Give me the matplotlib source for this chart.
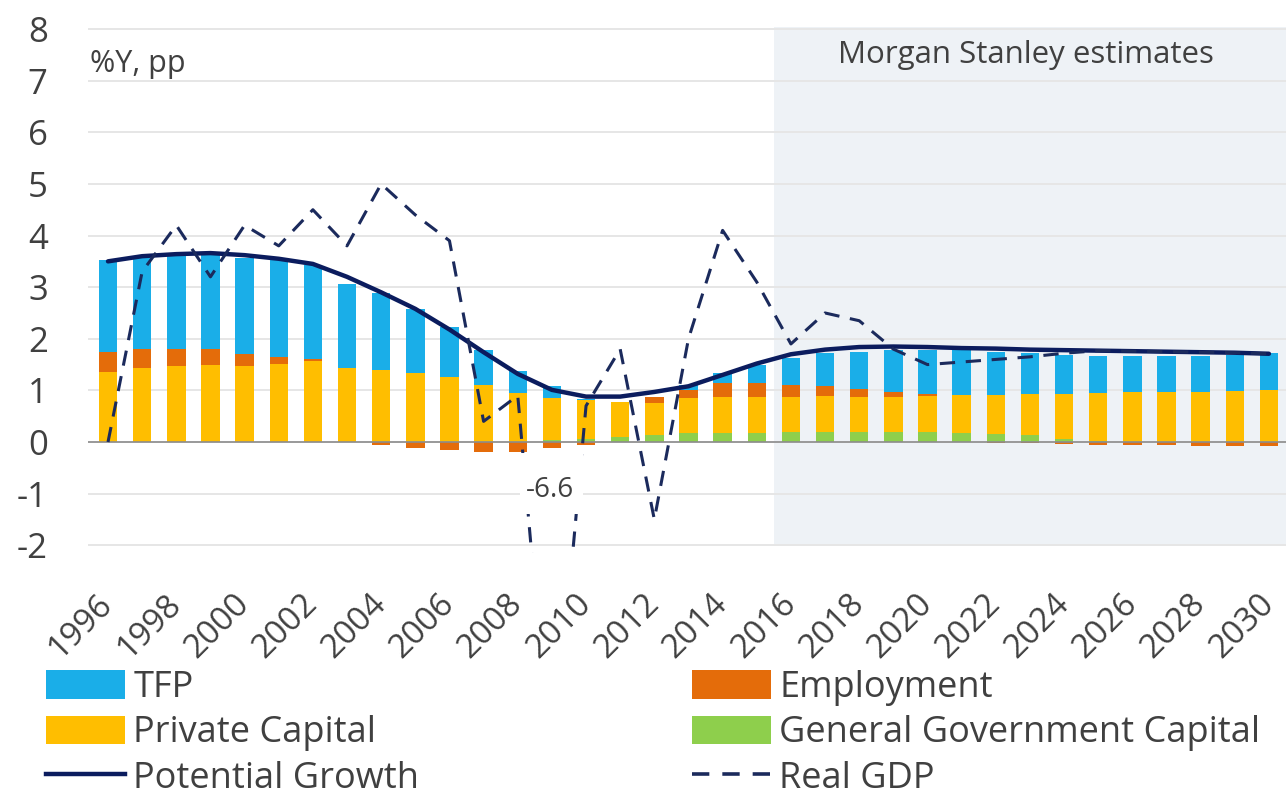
import matplotlib
matplotlib.use("Agg")
import matplotlib.pyplot as plt
from matplotlib.patches import Patch, Rectangle
from matplotlib.lines import Line2D
import numpy as np

#===== DATA =====
years = list(range(1996, 2031))
gov_capital = [0.00, 0.00, 0.00, 0.00, 0.00, 0.00, 0.00, 0.00, 0.00, 0.00,
               0.00, 0.00, 0.00, 0.03, 0.05, 0.10, 0.13, 0.18, 0.18, 0.18,
               0.19, 0.20, 0.20, 0.19, 0.19, 0.18, 0.16, 0.13, 0.06, 0.02,
               0.00, 0.00, 0.00, 0.00, 0.00]
private_capital = [1.36, 1.43, 1.47, 1.50, 1.47, 1.52, 1.57, 1.43, 1.40, 1.33,
                   1.25, 1.10, 0.94, 0.82, 0.76, 0.68, 0.62, 0.67, 0.70, 0.70,
                   0.69, 0.69, 0.68, 0.69, 0.70, 0.73, 0.75, 0.80, 0.87, 0.92,
                   0.96, 0.97, 0.97, 0.99, 1.01]
employment = [0.39, 0.37, 0.33, 0.30, 0.23, 0.13, 0.03, 0.00, -0.05, -0.12,
              -0.16, -0.19, -0.19, -0.12, -0.05, 0.00, 0.13, 0.16, 0.26, 0.27,
              0.22, 0.19, 0.14, 0.09, 0.04, 0.00, -0.01, -0.02, -0.04, -0.06,
              -0.06, -0.06, -0.07, -0.07, -0.07]
tfp = [1.78, 1.77, 1.82, 1.82, 1.87, 1.87, 1.83, 1.64, 1.48, 1.24,
       0.97, 0.68, 0.44, 0.23, 0.02, 0.00, 0.00, 0.09, 0.19, 0.34,
       0.52, 0.64, 0.73, 0.81, 0.85, 0.87, 0.84, 0.79, 0.76, 0.73,
       0.71, 0.70, 0.70, 0.69, 0.72]
potential = [3.50, 3.60, 3.64, 3.66, 3.62, 3.55, 3.45, 3.20, 2.90, 2.58,
             2.18, 1.74, 1.32, 1.01, 0.88, 0.88, 0.97, 1.08, 1.30, 1.52,
             1.70, 1.79, 1.84, 1.85, 1.84, 1.82, 1.81, 1.79, 1.78, 1.77,
             1.76, 1.75, 1.74, 1.73, 1.71]
real_gdp = [0.0, 3.3, 4.2, 3.2, 4.2, 3.8, 4.5, 3.8, 5.0, 4.4,
            3.9, 0.4, 0.9, -6.6, 0.7, 1.8, -1.5, 2.0, 4.1, 3.1,
            1.9, 2.5, 2.35, 1.8, 1.5, 1.55, 1.6, 1.65, 1.72, 1.77,
            1.76, 1.75, 1.74, 1.73, 1.71]
xtick_labels = [str(y) for y in years[::2]]
yticks = list(range(-2, 9))
estimate_start = 2016
trough_year = 2009

#===== STYLE =====
plt.rcParams['font.family'] = ['Open Sans', 'DejaVu Sans']
plt.rcParams['axes.unicode_minus'] = False
c_tfp = "#1AAEE8"
c_emp = "#E46C0A"
c_pc = "#FFBE00"
c_gov = "#8ECF4C"
c_pot = "#0B1C5E"
c_gdp = "#1B2A5C"
c_text = "#404040"

fig = plt.figure(figsize=(12.86, 8.02), dpi=100)
ax = fig.add_axes([88/1286, 249/802, 1198/1286, 526/802])

x = np.arange(len(years))
gov = np.array(gov_capital)
pc = np.array(private_capital)
emp = np.array(employment)
tf = np.array(tfp)

# shaded forecast region
est_idx = years.index(estimate_start) - 0.5
ax.add_patch(Rectangle((est_idx, -2), 40, 10.04, facecolor="#EEF2F6",
                       edgecolor="none", zorder=0))

for yv in yticks:
    ax.axhline(yv, color="#E6E6E6", lw=1.4, zorder=1)
ax.axhline(0, color="#8C8C8C", lw=1.2, zorder=3)

w = 0.54
emp_pos = np.clip(emp, 0, None)
emp_neg = np.clip(emp, None, 0)
ax.bar(x, gov, w, color=c_gov, zorder=2)
ax.bar(x, pc, w, bottom=gov, color=c_pc, zorder=2)
ax.bar(x, emp_pos, w, bottom=gov + pc, color=c_emp, zorder=2)
ax.bar(x, emp_neg, w, color=c_emp, zorder=2)
ax.bar(x, tf, w, bottom=gov + pc + emp_pos, color=c_tfp, zorder=2)

ax.plot(x, potential, color=c_pot, lw=3.2, zorder=5, solid_capstyle="round")
ax.plot(x, real_gdp, color=c_gdp, lw=2.2, dashes=(5, 3.5), zorder=6)

# data label for the off-scale trough, white box like the original
ti = years.index(trough_year)
ax.add_patch(Rectangle((ti - 0.94, -1.40), 1.84, 1.19, facecolor="white",
                       edgecolor="none", zorder=6.5))
ax.text(ti - 0.06, -0.93, "-6.6", fontsize=20, color=c_text, ha="center",
        va="center", zorder=7)

ax.set_xlim(-0.586, 34.5)
ax.set_ylim(-2.15, 8.04)
for s in ax.spines.values():
    s.set_visible(False)

ax.set_yticks(yticks)
ax.tick_params(axis="y", length=0, pad=29, labelsize=25, labelcolor=c_text)
ax.set_xticks(x[::2])
ax.set_xticklabels(xtick_labels, rotation=45, ha="right", va="center",
                   rotation_mode="anchor")
ax.tick_params(axis="x", length=0, pad=33, labelsize=24, labelcolor=c_text)

ax.text(0.0017, 0.915, "%Y, pp", transform=ax.transAxes, fontsize=22,
        color=c_text, ha="left", va="baseline")
ax.text(0.783, 0.947, "Morgan Stanley estimates", transform=ax.transAxes,
        fontsize=22.5, color=c_text, ha="center", va="center")

#===== LEGEND =====
h_tfp = Patch(facecolor=c_tfp)
h_pc = Patch(facecolor=c_pc)
h_pot = Line2D([], [], color=c_pot, lw=3.2)
h_emp = Patch(facecolor=c_emp)
h_gov = Patch(facecolor=c_gov)
h_gdp = Line2D([], [], color=c_gdp, lw=2.6, dashes=(4.8, 3.6))

leg_kw = dict(loc="upper left", frameon=False, fontsize=26, borderpad=0,
              borderaxespad=0, handlelength=2.2, handleheight=0.82,
              handletextpad=0.22, labelspacing=0.26, labelcolor=c_text)
leg1 = fig.legend([h_tfp, h_pc, h_pot], ["TFP", "Private Capital", "Potential Growth"],
                  bbox_to_anchor=(46/1286, 1 - 670/802), **leg_kw)
leg2 = fig.legend([h_emp, h_gov, h_gdp],
                  ["Employment", "General Government Capital", "Real GDP"],
                  bbox_to_anchor=(692/1286, 1 - 670/802), **leg_kw)

fig.savefig("out.png", dpi=100)
